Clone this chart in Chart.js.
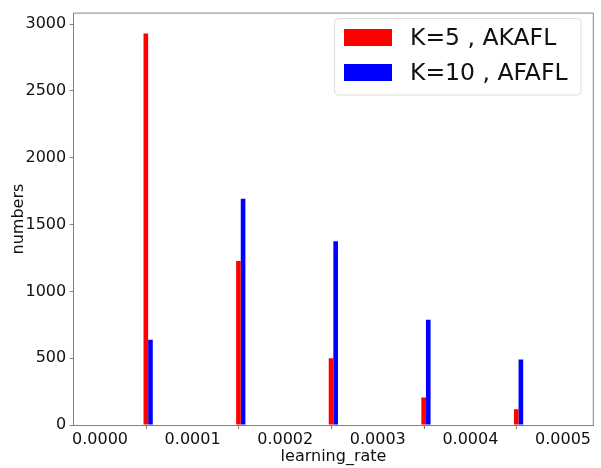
<!DOCTYPE html>
<html>
<head>
<meta charset="utf-8">
<script src="https://cdn.jsdelivr.net/npm/chart.js@4/dist/chart.umd.min.js"></script>
<style>
  html, body { margin: 0; padding: 0; background: #ffffff; }
  #wrap { width: 601px; height: 468px; }
</style>
</head>
<body>
<div id="wrap"><canvas id="c" width="601" height="468"></canvas></div>
<script>
// Learning-rate bins (left edge of the blue bar / right edge of the red bar)
const binPositions = [0.000052, 0.000152, 0.000252, 0.000352, 0.000452];
// Counts per bin for each configuration
const akaflCounts = [2930, 1228, 500, 205, 118];
const afaflCounts = [638, 1692, 1374, 788, 490];
const seriesLabels = ['K=5 , AKAFL', 'K=10 , AFAFL'];
const seriesColors = ['#ff0000', '#0000ff'];
// Axis ticks
const xTickValues = [0, 0.0001, 0.0002, 0.0003, 0.0004, 0.0005];
const yTickValues = [0, 500, 1000, 1500, 2000, 2500, 3000];

const FONT = 'DejaVu Sans';
const SPINE = '#808080';
const INK = '#111111';

const toPoints = counts => binPositions.map((x, i) => ({ x: x, y: counts[i] }));

// Top and right frame lines of the plotting area
const framePlugin = {
  id: 'frame',
  afterDraw(chart) {
    const { ctx, chartArea: a } = chart;
    ctx.save();
    ctx.strokeStyle = SPINE;
    ctx.lineWidth = 1;
    ctx.beginPath();
    ctx.moveTo(a.left, a.top);
    ctx.lineTo(a.right, a.top);
    ctx.lineTo(a.right, a.bottom);
    ctx.stroke();
    ctx.restore();
  }
};

// Legend box drawn inside the plot, upper right
const insideLegend = {
  id: 'insideLegend',
  afterDraw(chart) {
    const { ctx } = chart;
    const box = { x: 334.5, y: 18.5, w: 246.5, h: 76.5, r: 4 };
    ctx.save();
    ctx.fillStyle = 'rgba(255,255,255,0.8)';
    ctx.strokeStyle = '#dddddd';
    ctx.lineWidth = 1;
    ctx.beginPath();
    ctx.roundRect(box.x, box.y, box.w, box.h, box.r);
    ctx.fill();
    ctx.stroke();
    ctx.font = '23.5px "' + FONT + '"';
    ctx.textBaseline = 'middle';
    ctx.textAlign = 'left';
    chart.data.datasets.forEach((ds, i) => {
      const cy = 37.5 + i * 35;
      ctx.fillStyle = ds.backgroundColor;
      ctx.fillRect(344, cy - 8.5, 48, 17);
      ctx.fillStyle = INK;
      ctx.fillText(ds.label, 410, cy + 1);
    });
    ctx.restore();
  }
};

new Chart(document.getElementById('c'), {
  type: 'bar',
  data: {
    datasets: [
      { label: seriesLabels[0], data: toPoints(akaflCounts), backgroundColor: seriesColors[0] },
      { label: seriesLabels[1], data: toPoints(afaflCounts), backgroundColor: seriesColors[1] }
    ]
  },
  options: {
    responsive: false,
    devicePixelRatio: 1,
    animation: false,
    layout: { padding: { left: 0, right: 7.7, top: 5.5, bottom: 0 } },
    datasets: {
      bar: { categoryPercentage: 0.1, barPercentage: 1.0, borderWidth: 0 }
    },
    plugins: {
      legend: { display: false },
      tooltip: { enabled: false }
    },
    scales: {
      x: {
        type: 'linear',
        offset: false,
        min: -0.0000284,
        max: 0.0005327,
        afterBuildTicks: s => { s.ticks = xTickValues.map(v => ({ value: v })); },
        afterFit: s => { s.height = 43; },
        grid: { drawOnChartArea: false, drawTicks: true, tickLength: 4, color: SPINE },
        border: { display: true, color: SPINE, width: 1 },
        ticks: {
          color: INK,
          font: { family: FONT, size: 16 },
          padding: 1,
          maxRotation: 0,
          autoSkip: false,
          callback: v => Number(v).toFixed(4)
        },
        title: {
          display: true,
          text: 'learning_rate',
          color: INK,
          font: { family: FONT, size: 16 },
          padding: { top: 0, bottom: 2 }
        }
      },
      y: {
        type: 'linear',
        min: 0,
        max: 3082,
        afterBuildTicks: s => { s.ticks = yTickValues.map(v => ({ value: v })); },
        afterFit: s => { s.width = 73.7; },
        grid: { drawOnChartArea: false, drawTicks: true, tickLength: 4, color: SPINE },
        border: { display: true, color: SPINE, width: 1 },
        ticks: {
          color: INK,
          font: { family: FONT, size: 16 },
          padding: 3.5,
          autoSkip: false,
          callback: v => String(v)
        },
        title: {
          display: true,
          text: 'numbers',
          color: INK,
          font: { family: FONT, size: 16 },
          padding: { top: 9, bottom: 0 }
        }
      }
    }
  },
  plugins: [framePlugin, insideLegend]
});
</script>
</body>
</html>
